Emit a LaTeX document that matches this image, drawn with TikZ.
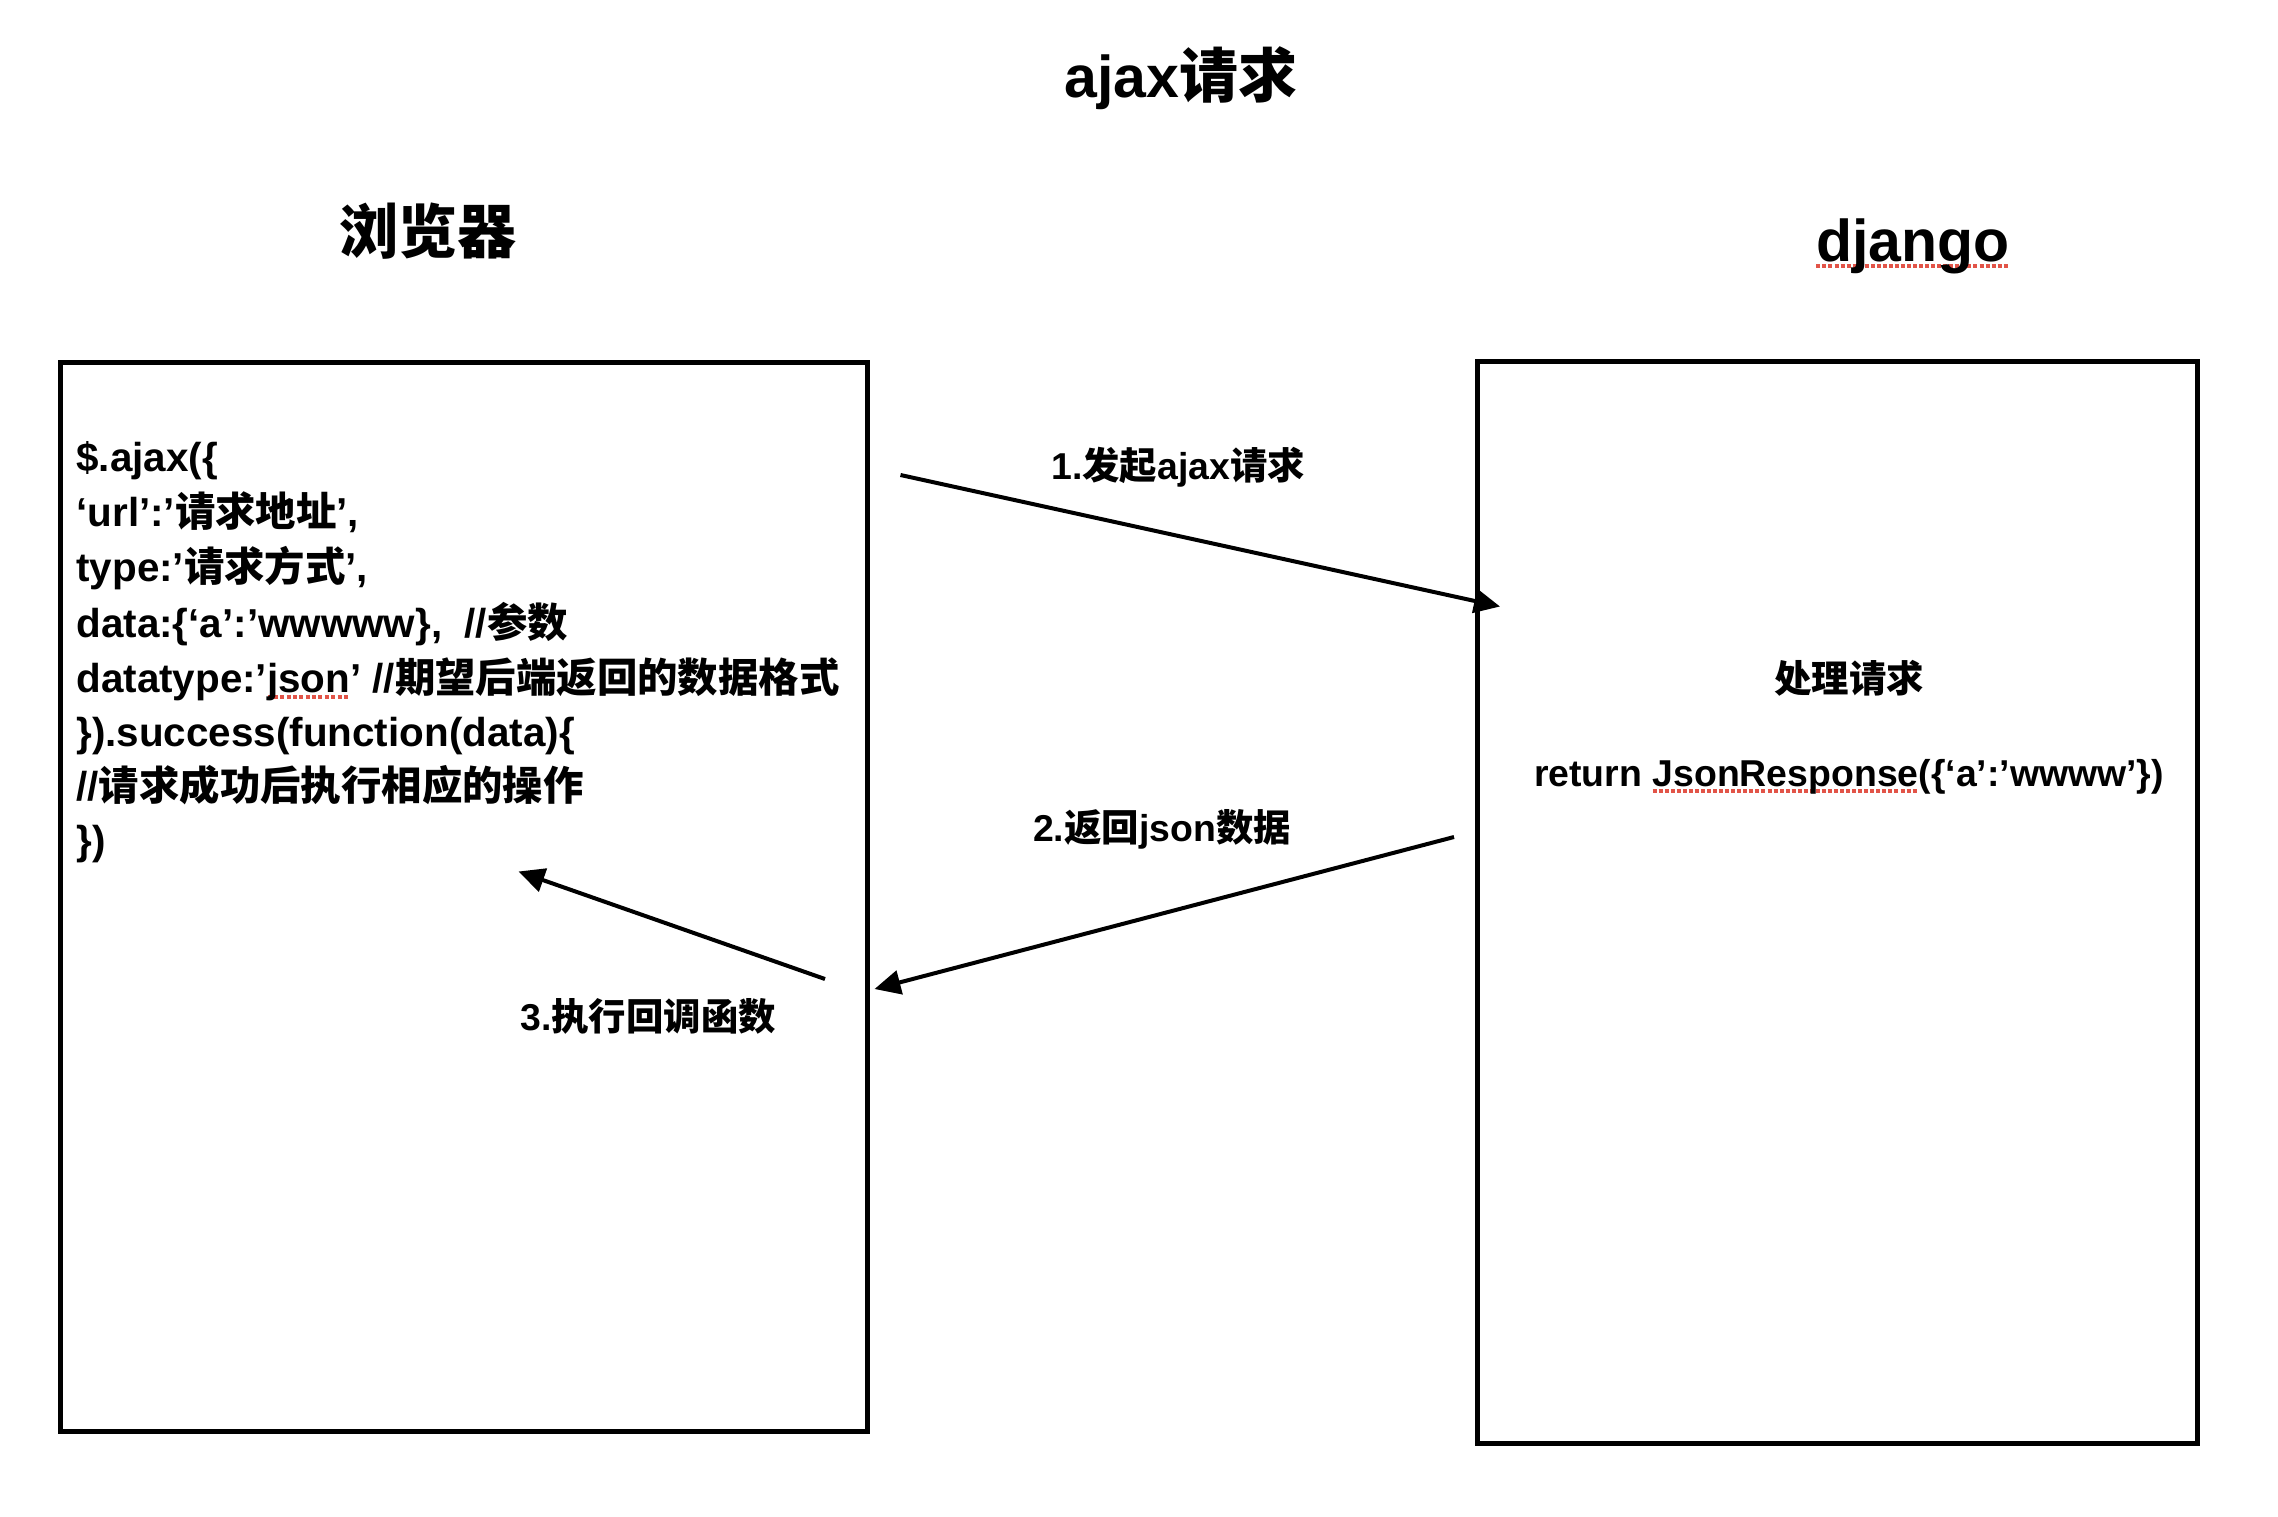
\documentclass[tikz,border=0pt]{standalone}
\usepackage{fontspec}
\setmainfont{Liberation Sans}
\newfontfamily\cjkfont{Noto Sans CJK SC}
\usetikzlibrary{arrows.meta}
\definecolor{spellred}{RGB}{226,84,72}
% Chinese runs are switched to the CJK family by hand
\newcommand\zh[1]{{\cjkfont\bfseries #1}}
% red dotted spell-check underline
\newsavebox\spellbox
\newcommand\spellmark[1]{\leavevmode\sbox\spellbox{#1}%
  \rlap{\lower3.4pt\hbox to\wd\spellbox{\xleaders\hbox{\textcolor{spellred}{\rule{2pt}{1.7pt}}\kern1pt}\hfill}}%
  \usebox\spellbox}
\begin{document}
\begin{tikzpicture}[x=0.5pt,y=-0.5pt,
  frame/.style={draw=black,line width=2.5pt},
  heading/.style={anchor=base,inner sep=0pt,font=\fontsize{29.5}{34}\bfseries},
  codeline/.style={anchor=base west,inner sep=0pt,font=\fontsize{20.2}{26}\bfseries},
  label/.style={anchor=base,inner sep=0pt,font=\fontsize{18.7}{23}\bfseries},
  flow/.style={line width=2pt,-{Triangle[length=13pt,width=12pt]}}]
\useasboundingbox[fill=white] (0,0) rectangle (2278,1516);

% headings
\node[heading] (title) at (1181,97) {ajax\zh{请求}};
\node[heading] (browser) at (428,253) {\zh{浏览器}};
\node[heading] (server) at (1913,261) {\spellmark{django}};

% the two sides
\draw[frame] (60,362) rectangle (867.5,1431.5);
\draw[frame] (1477.5,361) rectangle (2197.5,1443.5);

% client code
\node[codeline] (l1) at (76,471) {\$.ajax(\{};
\node[codeline] (l2) at (76,526) {‘url’:’\zh{请求地址}’,};
\node[codeline] (l3) at (76,581) {type:’\zh{请求方式}’,};
\node[codeline] (l4) at (76,637) {data:\{‘a’:’wwwww\},\ \ //\zh{参数}};
\node[codeline] (l5) at (76,692) {datatype:’\spellmark{json}’ //\zh{期望后端返回的数据格式}};
\node[codeline] (l6) at (76,746) {\}).success(function(data)\{};
\node[codeline] (l7) at (76,800) {//\zh{请求成功后执行相应的操作}};
\node[codeline] (l8) at (76,854) {\})};

% server side
\node[label] (handle) at (1849,692) {\zh{处理请求}};
\node[label] (ret) at (1849,786) {return \spellmark{JsonResponse}(\{‘a’:’wwww’\})};

% request / response flow
\coordinate (a1s) at (900.5,475);
\coordinate (a1e) at (1500,606.5);
\coordinate (a2s) at (1454,837);
\coordinate (a2e) at (874.5,989);
\coordinate (a3s) at (825,979);
\coordinate (a3e) at (518.5,871.5);
\draw[flow] (a1s) -- (a1e);
\draw[flow] (a2s) -- (a2e);
\draw[flow] (a3s) -- (a3e);

\node[label] (lab1) at (1178,479) {1.\zh{发起}ajax\zh{请求}};
\node[label] (lab2) at (1162,841) {2.\zh{返回}json\zh{数据}};
\node[label] (lab3) at (648,1030) {3.\zh{执行回调函数}};
\end{tikzpicture}
\end{document}
